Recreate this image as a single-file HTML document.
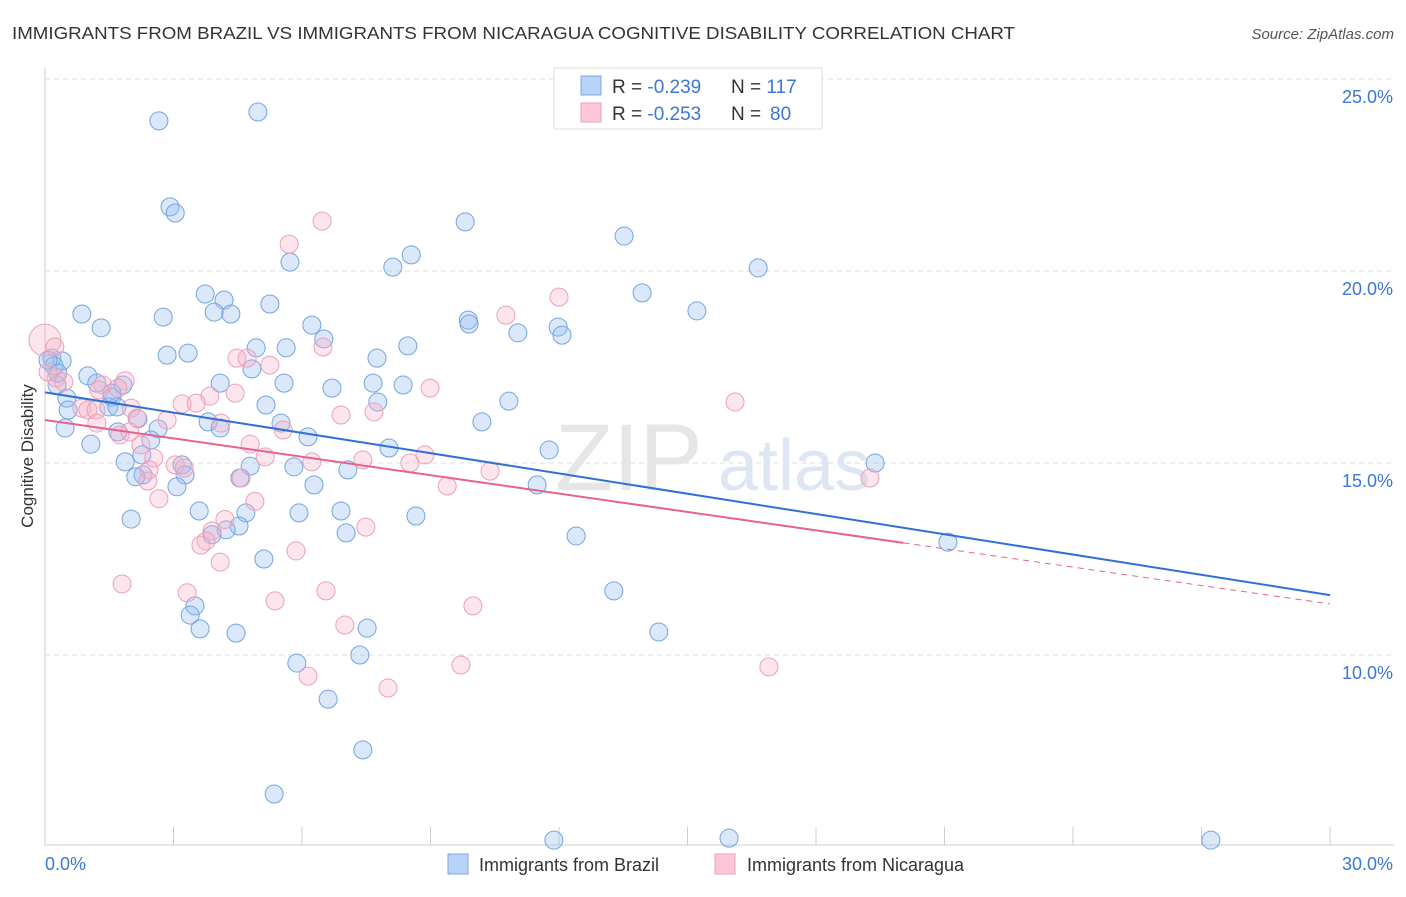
<!DOCTYPE html>
<html><head><meta charset="utf-8"><style>
body{margin:0;background:#fff;font-family:"Liberation Sans",sans-serif;}
svg text{font-family:"Liberation Sans",sans-serif;}
</style></head><body>
<svg id="chart" width="1406" height="892" xmlns="http://www.w3.org/2000/svg">
<text x="12" y="39" font-size="17.5" fill="#333" textLength="1003" lengthAdjust="spacingAndGlyphs">IMMIGRANTS FROM BRAZIL VS IMMIGRANTS FROM NICARAGUA COGNITIVE DISABILITY CORRELATION CHART</text>
<text x="1394" y="39" font-size="15" fill="#555" text-anchor="end" font-style="italic">Source: ZipAtlas.com</text>
<g id="grid"></g>
<text x="555" y="490" font-size="95" fill="#e6e6e6" font-family="Liberation Serif">ZIP</text>
<text x="718" y="490" font-size="72" fill="#dde6f2">atlas</text>
<g id="marks"></g>
<text transform="translate(33,456) rotate(-90)" font-size="17" fill="#333" text-anchor="middle">Cognitive Disability</text>
<text x="45" y="870" font-size="18" fill="#3a78d4">0.0%</text>
<text x="1393" y="870" font-size="18" fill="#3a78d4" text-anchor="end">30.0%</text>
<g>
<rect x="554" y="68" width="268" height="61" fill="#fff" stroke="#ddd"/>
<rect x="581" y="76" width="20" height="19" fill="#b8d3f5" stroke="#7aa8e6"/>
<rect x="581" y="103" width="20" height="19" fill="#fcc8d8" stroke="#eaa0b8"/>
<text x="612" y="93" font-size="19" fill="#333">R = <tspan fill="#3a78d4">-0.239</tspan></text>
<text x="731" y="93" font-size="19" fill="#333">N = <tspan fill="#3a78d4">117</tspan></text>
<text x="612" y="120" font-size="19" fill="#333">R = <tspan fill="#3a78d4">-0.253</tspan></text>
<text x="731" y="120" font-size="19" fill="#333">N = </text>
<text x="770" y="120" font-size="19" fill="#3a78d4">80</text>
</g>
<g>
<rect x="448" y="854" width="20" height="20" fill="#b8d3f5" stroke="#7aa8e6"/>
<text x="479" y="871" font-size="18" fill="#333">Immigrants from Brazil</text>
<rect x="715" y="854" width="20" height="20" fill="#fcc8d8" stroke="#eaa0b8"/>
<text x="747" y="871" font-size="18" fill="#333">Immigrants from Nicaragua</text>
</g>
</svg>
<script>
const yTicks=[25,20,15,10];
const yTickLabels=["25.0%","20.0%","15.0%","10.0%"];
const xTicks=[0,3,6,9,12,15,18,21,24,27,30];
const brazilX=[4.97,2.66,2.92,3.04,9.81,13.52,5.72,8.55,8.12,16.65,3.74,4.18,13.94,5.25,3.95,4.34,0.86,2.76,15.22,9.88,9.90,6.23,11.98,1.31,11.04,12.07,6.51,8.47,5.63,4.93,2.85,3.34,7.75,0.16,0.40,0.21,4.83,1.00,1.82,4.09,5.58,6.70,7.66,8.36,0.28,1.21,0.51,1.56,7.77,10.83,5.16,1.49,1.68,0.54,2.17,10.20,3.81,5.51,4.09,0.47,1.70,2.64,6.14,2.47,1.07,11.77,8.03,2.26,1.87,3.20,5.81,4.79,7.07,19.38,2.29,3.27,4.55,2.12,6.28,11.49,3.08,3.60,5.93,6.91,8.66,4.69,2.01,4.53,4.23,7.03,3.90,12.40,21.08,5.11,13.28,3.50,3.39,3.62,4.46,7.52,14.33,7.35,5.88,6.61,7.42,5.35,11.88,15.97,27.22,1.56,0.30,0.07];
const brazilY=[24.14,23.91,21.67,21.51,21.28,20.91,20.23,20.42,20.10,20.08,19.40,19.24,19.43,19.14,18.93,18.88,18.88,18.80,18.96,18.72,18.62,18.59,18.54,18.52,18.39,18.33,18.23,18.05,18.00,18.00,17.81,17.86,17.73,17.73,17.66,17.53,17.45,17.27,17.03,17.08,17.08,16.95,17.08,17.03,17.03,17.08,16.69,16.72,16.59,16.61,16.51,16.46,16.46,16.38,16.15,16.07,16.07,16.04,15.91,15.91,15.81,15.89,15.68,15.60,15.49,15.34,15.39,15.21,15.03,14.95,14.90,14.92,14.82,15.00,14.69,14.69,14.61,14.64,14.43,14.43,14.38,13.75,13.70,13.75,13.62,13.70,13.54,13.36,13.26,13.18,13.13,13.10,12.94,12.50,11.67,11.28,11.04,10.68,10.57,10.70,10.60,10.00,9.79,8.85,7.53,6.38,5.18,5.23,5.18,16.82,17.34,17.68];
const nicX=[0,6.47,5.70,12.00,10.76,6.49,0.23,4.48,4.72,5.25,0.07,0.26,0.44,1.87,1.35,1.70,1.26,8.99,3.85,4.44,3.20,3.53,0.86,1.00,1.19,2.01,2.15,2.85,4.11,1.21,6.91,7.68,5.56,1.75,1.98,4.79,2.24,8.87,5.14,6.23,7.42,8.52,2.54,3.04,3.25,10.39,2.43,4.58,2.40,9.39,2.66,4.90,4.20,3.90,7.49,3.76,3.64,5.86,4.09,1.80,6.56,3.32,5.37,9.99,7.00,9.71,16.90,6.14,8.01,16.11,19.26];
const nicY=[18.20,21.30,20.70,19.32,18.85,18.02,18.02,17.73,17.73,17.55,17.37,17.21,17.11,17.14,17.03,16.95,16.90,16.95,16.74,16.82,16.54,16.56,16.43,16.38,16.38,16.43,16.17,16.12,16.04,16.04,16.25,16.33,15.86,15.73,15.81,15.49,15.47,15.21,15.16,15.03,15.08,15.00,15.13,14.95,14.87,14.79,14.82,14.61,14.53,14.40,14.07,14.00,13.53,13.23,13.33,12.97,12.86,12.71,12.42,11.85,11.67,11.62,11.41,11.28,10.78,9.74,9.69,9.45,9.14,16.59,14.61];
const brazilTrend=[16.84,11.56];
const nicTrend=[16.12,11.33];
const nicSolidEnd=20.04;
const NS="http://www.w3.org/2000/svg";
const X=v=>45+v/30*1285;
const Y=v=>79+(25-v)/5*192;
function mk(tag,attrs,parent){const e=document.createElementNS(NS,tag);for(const k in attrs)e.setAttribute(k,attrs[k]);parent.appendChild(e);return e;}
const grid=document.getElementById('grid');
const marks=document.getElementById('marks');
yTicks.forEach((t,i)=>{
 const l=mk('line',{x1:45,x2:1394,y1:Y(t),y2:Y(t),stroke:'#ddd','stroke-dasharray':'5,4'},grid);
 
 
 const tx=mk('text',{x:1393,y:Y(t)+24,'font-size':18,fill:'#3a78d4','text-anchor':'end'},grid);
 tx.textContent=yTickLabels[i];
 
 
});
const ax=mk('path',{d:'M45 68 V845 H1394',fill:'none',stroke:'#ccc'},grid);


xTicks.forEach(t=>{
 const l=mk('line',{x1:X(t),x2:X(t),y1:827,y2:845,stroke:'#ccc'},grid);
 
 
});
brazilX.forEach((v,i)=>{
 const c=mk('circle',{cx:X(v),cy:Y(brazilY[i]),r:9,fill:'rgba(150,190,240,0.35)',stroke:'#74a4e0','stroke-width':1},marks);
 
 
});
nicX.forEach((v,i)=>{
 const c=mk('circle',{cx:X(v),cy:Y(nicY[i]),r:i===0?16:9,fill:'rgba(245,175,200,0.32)',stroke:'#eba0ba','stroke-width':1},marks);
 
 
});
const bl=mk('line',{x1:X(0),y1:Y(brazilTrend[0]),x2:X(30),y2:Y(brazilTrend[1]),stroke:'#2f6fd6','stroke-width':2},marks);


const ny=x=>nicTrend[0]+(nicTrend[1]-nicTrend[0])*x/30;
const pl=mk('line',{x1:X(0),y1:Y(nicTrend[0]),x2:X(nicSolidEnd),y2:Y(ny(nicSolidEnd)),stroke:'#e8628e','stroke-width':2},marks);


const pd=mk('line',{x1:X(nicSolidEnd),y1:Y(ny(nicSolidEnd)),x2:X(30),y2:Y(nicTrend[1]),stroke:'#e8628e','stroke-width':1,'stroke-dasharray':'6,5'},marks);


</script>
</body></html>
